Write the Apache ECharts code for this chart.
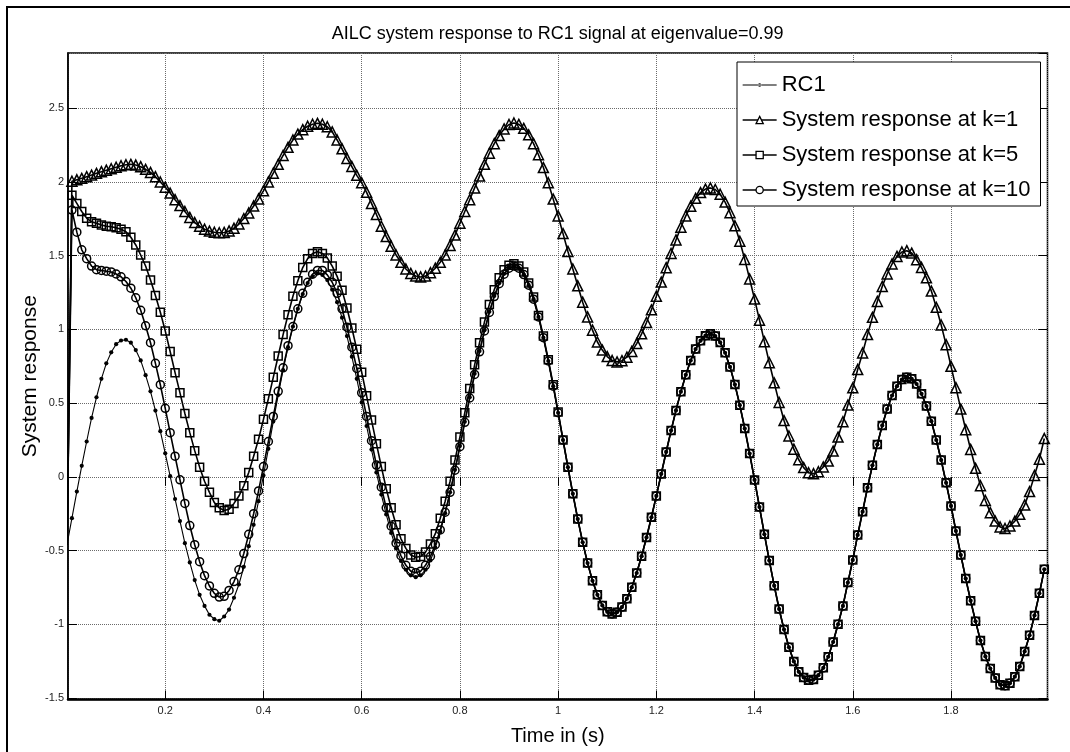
<!DOCTYPE html>
<html>
<head>
<meta charset="utf-8">
<title>AILC system response</title>
<script src="https://cdn.jsdelivr.net/npm/echarts@6/dist/echarts.min.js"></script>
<style>
  html, body { margin: 0; padding: 0; background: #fff; }
  #chart { width: 1070px; height: 752px; }
</style>
</head>
<body>
<div id="chart"></div>
<script>
// Sampled responses, one value every TIME_STEP seconds starting at t = 0.
const TIME_STEP = 0.01;

const seriesNames = [
  'RC1',
  'System response at k=1',
  'System response at k=5',
  'System response at k=10'
];

const rc1 = [
  -0.46, -0.28, -0.10, 0.075, 0.24, 0.40, 0.54, 0.665, 0.77, 0.845,
  0.90, 0.925, 0.93, 0.91, 0.86, 0.79, 0.69, 0.58, 0.45, 0.31,
  0.16, 0.005, -0.15, -0.30, -0.45, -0.58, -0.70, -0.80, -0.875, -0.935,
  -0.965, -0.976, -0.947, -0.90, -0.82, -0.73, -0.61, -0.47, -0.325, -0.165,
  0.01, 0.19, 0.375, 0.555, 0.725, 0.88, 1.02, 1.14, 1.24, 1.315,
  1.36, 1.38, 1.37, 1.335, 1.27, 1.185, 1.08, 0.955, 0.815, 0.665,
  0.505, 0.345, 0.185, 0.03, -0.12, -0.255, -0.38, -0.485, -0.57, -0.63,
  -0.668, -0.68, -0.668, -0.63, -0.567, -0.48, -0.372, -0.246, -0.105, 0.048,
  0.21, 0.374, 0.54, 0.70, 0.853, 0.994, 1.12, 1.227, 1.314, 1.377,
  1.416, 1.43, 1.415, 1.372, 1.30, 1.205, 1.085, 0.944, 0.786, 0.615,
  0.435, 0.25, 0.065, -0.115, -0.286, -0.444, -0.585, -0.705, -0.80, -0.872,
  -0.915, -0.93, -0.918, -0.883, -0.826, -0.749, -0.652, -0.538, -0.411, -0.274,
  -0.129, 0.02, 0.169, 0.314, 0.451, 0.578, 0.692, 0.789, 0.867, 0.924,
  0.958, 0.97, 0.955, 0.912, 0.842, 0.746, 0.626, 0.486, 0.328, 0.158,
  -0.021, -0.205, -0.389, -0.568, -0.738, -0.896, -1.036, -1.156, -1.252, -1.322,
  -1.36, -1.38, -1.375, -1.345, -1.295, -1.22, -1.12, -1.0, -0.875, -0.717,
  -0.563, -0.394, -0.236, -0.073, 0.078, 0.22, 0.349, 0.46, 0.552, 0.615,
  0.66, 0.676, 0.665, 0.63, 0.563, 0.48, 0.378, 0.25, 0.114, -0.04,
  -0.197, -0.367, -0.53, -0.69, -0.84, -0.98, -1.11, -1.218, -1.30, -1.364,
  -1.41, -1.416, -1.40, -1.355, -1.286, -1.184, -1.075, -0.94, -0.79, -0.627
];

const responseK1 = [
  -0.46, 2.005, 2.015, 2.025, 2.036, 2.047, 2.059, 2.07, 2.08, 2.09,
  2.10, 2.11, 2.117, 2.12, 2.115, 2.104, 2.086, 2.065, 2.036, 2.00,
  1.965, 1.925, 1.88, 1.84, 1.80, 1.76, 1.725, 1.70, 1.68, 1.667,
  1.659, 1.656, 1.658, 1.668, 1.686, 1.715, 1.752, 1.79, 1.837, 1.885,
  1.94, 2.0, 2.06, 2.12, 2.18, 2.235, 2.285, 2.325, 2.355, 2.378,
  2.392, 2.398, 2.392, 2.375, 2.34, 2.285, 2.225, 2.16, 2.105, 2.045,
  1.995, 1.93, 1.855, 1.78, 1.70, 1.63, 1.565, 1.505, 1.455, 1.41,
  1.38, 1.362, 1.356, 1.362, 1.385, 1.415, 1.455, 1.505, 1.57, 1.64,
  1.72, 1.80, 1.88, 1.96, 2.04, 2.12, 2.195, 2.26, 2.315, 2.36,
  2.39, 2.40, 2.391, 2.364, 2.32, 2.26, 2.185, 2.098, 1.995, 1.884,
  1.77, 1.65, 1.529, 1.41, 1.296, 1.185, 1.085, 0.995, 0.915, 0.86,
  0.816, 0.789, 0.78, 0.788, 0.812, 0.851, 0.904, 0.97, 1.047, 1.133,
  1.225, 1.321, 1.419, 1.515, 1.607, 1.693, 1.77, 1.836, 1.889, 1.928,
  1.952, 1.96, 1.949, 1.917, 1.864, 1.792, 1.703, 1.598, 1.475, 1.342,
  1.206, 1.063, 0.917, 0.774, 0.638, 0.505, 0.382, 0.277, 0.188, 0.116,
  0.063, 0.028, 0.022, 0.035, 0.067, 0.107, 0.175, 0.27, 0.374, 0.487,
  0.604, 0.728, 0.84, 0.965, 1.082, 1.19, 1.292, 1.376, 1.444, 1.495,
  1.525, 1.534, 1.518, 1.473, 1.42, 1.35, 1.26, 1.15, 1.03, 0.897,
  0.75, 0.605, 0.46, 0.32, 0.186, 0.058, -0.06, -0.16, -0.243, -0.30,
  -0.34, -0.35, -0.333, -0.30, -0.254, -0.19, -0.10, 0.01, 0.12, 0.26
];

const responseK5 = [
  -0.46, 1.91, 1.855, 1.80, 1.755, 1.73, 1.72, 1.708, 1.70, 1.697,
  1.69, 1.68, 1.663, 1.625, 1.573, 1.505, 1.43, 1.335, 1.23, 1.117,
  0.99, 0.85, 0.707, 0.57, 0.43, 0.30, 0.178, 0.066, -0.03, -0.105,
  -0.174, -0.21, -0.228, -0.22, -0.18, -0.13, -0.06, 0.03, 0.14, 0.255,
  0.39, 0.53, 0.675, 0.82, 0.965, 1.10, 1.225, 1.33, 1.42, 1.48,
  1.515, 1.527, 1.515, 1.485, 1.43, 1.36, 1.265, 1.145, 1.01, 0.865,
  0.71, 0.55, 0.385, 0.225, 0.07, -0.08, -0.21, -0.325, -0.42, -0.485,
  -0.53, -0.545, -0.54, -0.51, -0.455, -0.385, -0.28, -0.165, -0.03, 0.115,
  0.27, 0.435, 0.60, 0.76, 0.91, 1.05, 1.17, 1.27, 1.35, 1.405,
  1.435, 1.445, 1.43, 1.39, 1.315, 1.22, 1.095, 0.955, 0.795, 0.625,
  0.44, 0.25, 0.065, -0.115, -0.286, -0.444, -0.585, -0.705, -0.80, -0.872,
  -0.915, -0.93, -0.918, -0.883, -0.826, -0.749, -0.652, -0.538, -0.411, -0.274,
  -0.129, 0.02, 0.169, 0.314, 0.451, 0.578, 0.692, 0.789, 0.867, 0.924,
  0.958, 0.97, 0.955, 0.912, 0.842, 0.746, 0.626, 0.486, 0.328, 0.158,
  -0.021, -0.205, -0.389, -0.568, -0.738, -0.896, -1.036, -1.156, -1.252, -1.322,
  -1.36, -1.38, -1.375, -1.345, -1.295, -1.22, -1.12, -1.0, -0.875, -0.717,
  -0.563, -0.394, -0.236, -0.073, 0.078, 0.22, 0.349, 0.46, 0.552, 0.615,
  0.66, 0.676, 0.665, 0.63, 0.563, 0.48, 0.378, 0.25, 0.114, -0.04,
  -0.197, -0.367, -0.53, -0.69, -0.84, -0.98, -1.11, -1.218, -1.30, -1.364,
  -1.41, -1.416, -1.40, -1.355, -1.286, -1.184, -1.075, -0.94, -0.79, -0.627
];

const responseK10 = [
  -0.46, 1.81, 1.66, 1.54, 1.48, 1.43, 1.405, 1.40, 1.395, 1.39,
  1.376, 1.357, 1.325, 1.28, 1.215, 1.13, 1.025, 0.91, 0.77, 0.625,
  0.465, 0.30, 0.14, -0.02, -0.18, -0.33, -0.46, -0.575, -0.67, -0.74,
  -0.79, -0.815, -0.81, -0.77, -0.71, -0.63, -0.52, -0.39, -0.25, -0.095,
  0.07, 0.24, 0.41, 0.58, 0.74, 0.89, 1.02, 1.14, 1.245, 1.32,
  1.375, 1.40, 1.40, 1.37, 1.32, 1.245, 1.14, 1.015, 0.88, 0.735,
  0.57, 0.41, 0.245, 0.08, -0.07, -0.21, -0.335, -0.45, -0.535, -0.60,
  -0.64, -0.65, -0.64, -0.60, -0.54, -0.46, -0.36, -0.24, -0.105, 0.045,
  0.205, 0.37, 0.535, 0.695, 0.848, 0.99, 1.115, 1.223, 1.31, 1.375,
  1.415, 1.43, 1.415, 1.372, 1.30, 1.205, 1.085, 0.944, 0.786, 0.615,
  0.435, 0.25, 0.065, -0.115, -0.286, -0.444, -0.585, -0.705, -0.80, -0.872,
  -0.915, -0.93, -0.918, -0.883, -0.826, -0.749, -0.652, -0.538, -0.411, -0.274,
  -0.129, 0.02, 0.169, 0.314, 0.451, 0.578, 0.692, 0.789, 0.867, 0.924,
  0.958, 0.97, 0.955, 0.912, 0.842, 0.746, 0.626, 0.486, 0.328, 0.158,
  -0.021, -0.205, -0.389, -0.568, -0.738, -0.896, -1.036, -1.156, -1.252, -1.322,
  -1.36, -1.38, -1.375, -1.345, -1.295, -1.22, -1.12, -1.0, -0.875, -0.717,
  -0.563, -0.394, -0.236, -0.073, 0.078, 0.22, 0.349, 0.46, 0.552, 0.615,
  0.66, 0.676, 0.665, 0.63, 0.563, 0.48, 0.378, 0.25, 0.114, -0.04,
  -0.197, -0.367, -0.53, -0.69, -0.84, -0.98, -1.11, -1.218, -1.30, -1.364,
  -1.41, -1.416, -1.40, -1.355, -1.286, -1.184, -1.075, -0.94, -0.79, -0.627
];

// Axis ranges (tight around the samples) and tick spacing
const X_RANGE = [0.002, 1.9965];
const Y_RANGE = [-1.51, 2.875];
const X_TICK_STEP = 0.2;
const Y_TICK_STEP = 0.5;

const TITLE_TEXT = 'AILC system response to RC1 signal at eigenvalue=0.99';
const X_NAME = 'Time in (s)';
const Y_NAME = 'System response';

const FONT = "'Liberation Sans', Arial, Helvetica, sans-serif";

function toPairs(values) {
  return values.map((v, i) => [Math.round(i * TIME_STEP * 100) / 100, v]);
}

const GRID = { left: 68, top: 53, width: 979.5, height: 646.5 };

const tickStyle = { show: true, inside: true, length: 9, lineStyle: { color: '#000', width: 1 } };
const gridLineStyle = { show: true, lineStyle: { color: '#6a6a6a', width: 1, type: [1, 1] } };

function valueAxis(range, step, extra) {
  return Object.assign({
    type: 'value',
    min: range[0],
    max: range[1],
    minInterval: step,
    maxInterval: step,
    scale: true
  }, extra);
}

const chart = echarts.init(document.getElementById('chart'), null, { renderer: 'canvas' });

const markerLine = { color: '#000', width: 1.6 };
const hollow = { color: 'rgba(0,0,0,0)', borderColor: '#000', borderWidth: 1.5 };

chart.setOption({
  animation: false,
  backgroundColor: '#fff',
  grid: Object.assign({ show: true, borderColor: '#000', borderWidth: 1.5, backgroundColor: 'rgba(0,0,0,0)' }, GRID),
  xAxis: [
    valueAxis(X_RANGE, X_TICK_STEP, {
      position: 'bottom',
      axisLine: { show: true, onZero: false, lineStyle: { color: '#000', width: 2.5 } },
      axisTick: tickStyle,
      axisLabel: { show: true, showMinLabel: false, showMaxLabel: false, margin: 6,
                   color: '#222', fontSize: 11, fontFamily: FONT },
      splitLine: gridLineStyle,
      name: X_NAME, nameLocation: 'middle', nameGap: 27, nameMoveOverlap: false,
      nameTextStyle: { color: '#000', fontSize: 20, fontFamily: FONT }
    }),
    valueAxis(X_RANGE, X_TICK_STEP, {
      position: 'top',
      axisLine: { show: false },
      axisTick: tickStyle,
      axisLabel: { show: false },
      splitLine: { show: false }
    })
  ],
  yAxis: [
    valueAxis(Y_RANGE, Y_TICK_STEP, {
      position: 'left',
      axisLine: { show: true, onZero: false, lineStyle: { color: '#000', width: 1.5 } },
      axisTick: tickStyle,
      axisLabel: { show: true, showMinLabel: false, showMaxLabel: false, margin: 4,
                   color: '#222', fontSize: 11, fontFamily: FONT },
      splitLine: gridLineStyle,
      name: Y_NAME, nameLocation: 'middle', nameGap: 27, nameMoveOverlap: false,
      nameTextStyle: { color: '#000', fontSize: 21, fontFamily: FONT }
    }),
    valueAxis(Y_RANGE, Y_TICK_STEP, {
      position: 'right',
      axisLine: { show: false },
      axisTick: tickStyle,
      axisLabel: { show: false },
      splitLine: { show: false }
    })
  ],
  legend: {
    orient: 'vertical',
    left: 737,
    top: 62,
    padding: [12, 10, 5, 5],
    itemGap: 13,
    itemWidth: 34,
    itemHeight: 9,
    selectedMode: false,
    backgroundColor: '#fff',
    borderColor: '#000',
    borderWidth: 1,
    textStyle: { color: '#000', fontSize: 22, fontFamily: FONT },
    lineStyle: { color: '#000', width: 1.3 },
    data: [
      { name: seriesNames[0],
        icon: 'path://M0,3.4H34V4.6H0Z M15.2,4A1.8,1.8 0 1 0 18.8,4A1.8,1.8 0 1 0 15.2,4Z',
        itemStyle: { color: '#000', borderWidth: 0 } },
      { name: seriesNames[1], itemStyle: { color: '#fff', borderColor: '#000', borderWidth: 1.3 } },
      { name: seriesNames[2], itemStyle: { color: '#fff', borderColor: '#000', borderWidth: 1.3 } },
      { name: seriesNames[3], itemStyle: { color: '#fff', borderColor: '#000', borderWidth: 1.3 } }
    ]
  },
  graphic: [
    { type: 'rect', silent: true, z: -10,
      shape: { x: 7, y: 7, width: 1100, height: 800 },
      style: { fill: 'none', stroke: '#000', lineWidth: 2 } },
    { type: 'text', silent: true, x: 557.6, y: 25,
      style: { text: TITLE_TEXT, fill: '#000', fontSize: 18, fontFamily: FONT,
               align: 'center', verticalAlign: 'top' } }
  ],
  series: [
    { name: seriesNames[0], type: 'line', data: toPairs(rc1),
      symbol: 'circle', symbolSize: 4.2,
      lineStyle: { color: '#000', width: 1.1 }, itemStyle: { color: '#000' },
      emphasis: { disabled: true } },
    { name: seriesNames[1], type: 'line', data: toPairs(responseK1),
      symbol: 'triangle', symbolSize: 10,
      lineStyle: markerLine, itemStyle: hollow, emphasis: { disabled: true } },
    { name: seriesNames[2], type: 'line', data: toPairs(responseK5),
      symbol: 'rect', symbolSize: 8,
      lineStyle: markerLine, itemStyle: hollow, emphasis: { disabled: true } },
    { name: seriesNames[3], type: 'line', data: toPairs(responseK10),
      symbol: 'circle', symbolSize: 8,
      lineStyle: markerLine, itemStyle: hollow, emphasis: { disabled: true } }
  ]
});
</script>
</body>
</html>
